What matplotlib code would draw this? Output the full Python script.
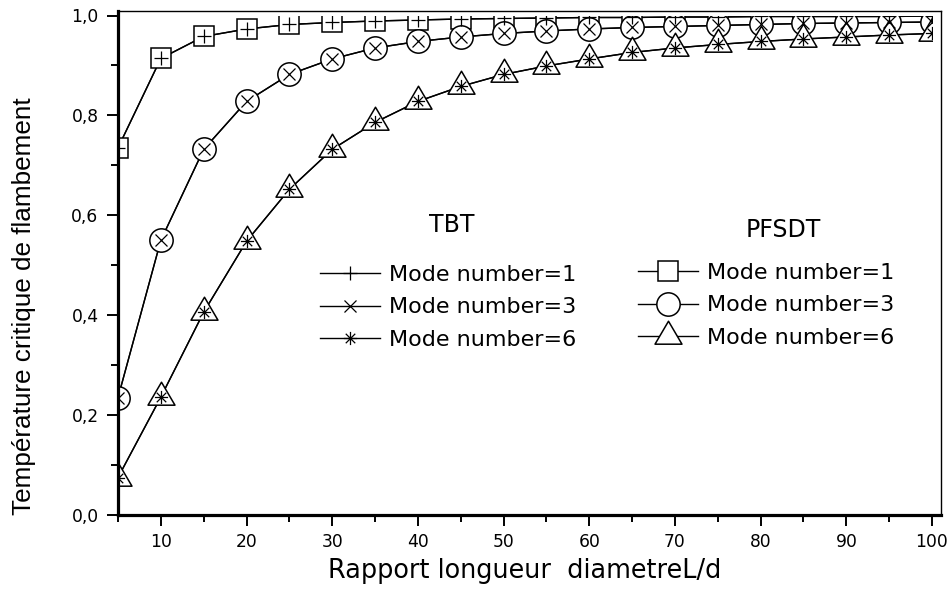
import matplotlib
matplotlib.use("Agg")
import matplotlib.pyplot as plt
import matplotlib.lines as mlines
from matplotlib.path import Path
from matplotlib.ticker import MultipleLocator, FuncFormatter

# ---------------- data ----------------
ratio_ld = [5, 10, 15, 20, 25, 30, 35, 40, 45, 50, 55, 60, 65, 70, 75, 80, 85, 90, 95, 100]

tbt_mode1 = [0.735, 0.914, 0.958, 0.973, 0.982, 0.986, 0.989, 0.991, 0.993, 0.994,
             0.995, 0.996, 0.996, 0.997, 0.997, 0.998, 0.998, 0.998, 0.998, 0.999]
tbt_mode3 = [0.235, 0.550, 0.732, 0.828, 0.882, 0.913, 0.935, 0.948, 0.957, 0.964,
             0.969, 0.973, 0.976, 0.978, 0.980, 0.982, 0.984, 0.985, 0.986, 0.987]
tbt_mode6 = [0.075, 0.236, 0.406, 0.548, 0.652, 0.732, 0.786, 0.828, 0.858, 0.882,
             0.899, 0.913, 0.926, 0.935, 0.942, 0.948, 0.953, 0.957, 0.961, 0.964]

pfsdt_mode1 = [0.735, 0.914, 0.958, 0.973, 0.982, 0.986, 0.989, 0.991, 0.993, 0.994,
               0.995, 0.996, 0.996, 0.997, 0.997, 0.998, 0.998, 0.998, 0.998, 0.999]
pfsdt_mode3 = [0.235, 0.550, 0.732, 0.828, 0.882, 0.913, 0.935, 0.948, 0.957, 0.964,
               0.969, 0.973, 0.976, 0.978, 0.980, 0.982, 0.984, 0.985, 0.986, 0.987]
pfsdt_mode6 = [0.075, 0.236, 0.406, 0.548, 0.652, 0.732, 0.786, 0.828, 0.858, 0.882,
               0.899, 0.913, 0.926, 0.935, 0.942, 0.948, 0.953, 0.957, 0.961, 0.964]

mode_labels = ["Mode number=1", "Mode number=3", "Mode number=6"]
x_ticks = [10, 20, 30, 40, 50, 60, 70, 80, 90, 100]
y_ticks = [0.0, 0.2, 0.4, 0.6, 0.8, 1.0]

# ---------------- style ----------------
plt.rcParams['font.family'] = ['DejaVu Sans']

W, H = 952, 596
fig = plt.figure(figsize=(W / 100, H / 100), dpi=100)
ax_l, ax_r, ax_t, ax_b = 118, 932, 15.5, 515
ax = fig.add_axes([ax_l / W, 1 - ax_b / H, (ax_r - ax_l) / W, (ax_b - ax_t) / H])

# custom markers
tri = Path([(0, 15.3), (-13.5, -7.7), (13.5, -7.7), (0, 15.3)],
           [Path.MOVETO, Path.LINETO, Path.LINETO, Path.CLOSEPOLY])
ast_verts, ast_codes = [], []
for (dx, dy) in [(0, 1), (1, 0), (0.72, 0.72), (0.72, -0.72)]:
    ast_verts += [(-dx, -dy), (dx, dy)]
    ast_codes += [Path.MOVETO, Path.LINETO]
asterisk = Path(ast_verts, ast_codes)

lw = 1.0
mew = 1.1

tbt_series = [tbt_mode1, tbt_mode3, tbt_mode6]
pf_series = [pfsdt_mode1, pfsdt_mode3, pfsdt_mode6]
pf_markers = [('s', 14.4), ('o', 16.8), (tri, 22.0)]
tbt_markers = [('+', 10.0), ('x', 9.0), (asterisk, 9.5)]

pf_handles = []
for ys_t, ys_p, (pm, pms), (tm, tms) in zip(tbt_series, pf_series, pf_markers, tbt_markers):
    ax.plot(ratio_ld, ys_t, color='black', lw=lw, zorder=1)
    pl, = ax.plot(ratio_ld, ys_p, color='black', lw=lw, marker=pm, ms=pms,
                  mfc='white', mec='black', mew=mew, zorder=2)
    ax.plot(ratio_ld, ys_t, ls='none', marker=tm, ms=tms,
            mfc='none', mec='black', mew=0.9, zorder=3)
    pf_handles.append(pl)

ax.set_xlim(5, 100)
ax.set_ylim(0, 1.0)

ax.set_xticks(x_ticks)
ax.xaxis.set_minor_locator(MultipleLocator(5))
ax.set_yticks(y_ticks)
ax.yaxis.set_minor_locator(MultipleLocator(0.1))
ax.yaxis.set_major_formatter(FuncFormatter(lambda v, p: f"{v:.1f}".replace('.', ',')))
ax.xaxis.set_major_formatter(FuncFormatter(lambda v, p: f"{v:.0f}"))

ax.tick_params(which='major', direction='out', length=8, width=1.4, labelsize=12.3)
ax.tick_params(which='minor', direction='out', length=5, width=1.4)
ax.tick_params(axis='x', which='major', pad=5.0)
ax.tick_params(axis='y', which='major', pad=6.0)
ax.tick_params(top=False, right=False, which='both')

# frame: thick left/bottom, thin top/right slightly outside the data area
dx_out = 9.0    # px
dy_out = 4.5    # px
x_ext = 100 + dx_out / (ax_r - ax_l) * 95
y_ext = 1.0 + dy_out / (ax_b - ax_t)
ax.spines['left'].set_linewidth(2.3)
ax.spines['bottom'].set_linewidth(2.3)
ax.spines['top'].set_linewidth(1.0)
ax.spines['right'].set_linewidth(1.0)
ax.spines['top'].set_position(('outward', dy_out * 0.72))
ax.spines['right'].set_position(('outward', dx_out * 0.72))
ax.spines['top'].set_bounds(5, x_ext)
ax.spines['bottom'].set_bounds(5, x_ext)
ax.spines['right'].set_bounds(0, y_ext)
ax.spines['left'].set_bounds(0, y_ext)

ax.set_xlabel("Rapport longueur  diametreL/d", fontsize=18.4, labelpad=5)
ax.set_ylabel("Température critique de flambement", fontsize=18.8,
              family=['Liberation Sans', 'DejaVu Sans'])
ax.yaxis.set_label_coords(36 / W, 1 - 306 / H, transform=fig.transFigure)

# legends
leg_kw = dict(frameon=False, fontsize=16, handlelength=2.7,
              handletextpad=0.4, labelspacing=0.56, borderpad=0, borderaxespad=0,
              numpoints=1, loc='upper left')

tbt_proxies = [mlines.Line2D([], [], color='black', lw=lw, marker=tm, ms=tms,
                             mfc='none', mec='black', mew=0.9)
               for (tm, tms) in tbt_markers]
leg1 = ax.legend(tbt_proxies, mode_labels,
                 bbox_to_anchor=(320 / W, 1 - 265 / H), bbox_transform=fig.transFigure,
                 **leg_kw)
ax.add_artist(leg1)
leg2 = ax.legend(pf_handles, mode_labels,
                 bbox_to_anchor=(638 / W, 1 - 263 / H), bbox_transform=fig.transFigure,
                 **leg_kw)

fig.text(452 / W, 1 - 225 / H, "TBT", fontsize=17, ha='center', va='center')
fig.text(783 / W, 1 - 230 / H, "PFSDT", fontsize=17, ha='center', va='center')

fig.savefig("out.png", dpi=100)
